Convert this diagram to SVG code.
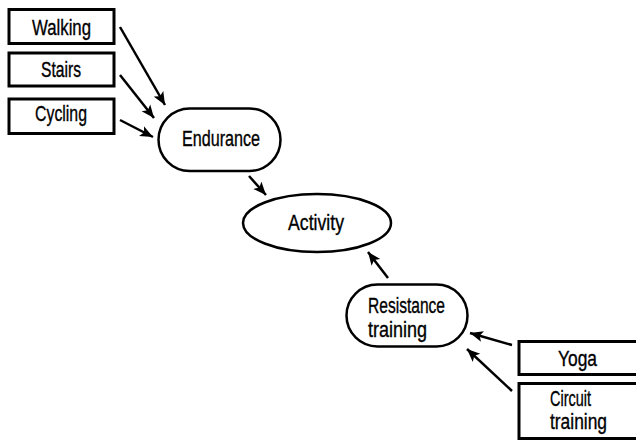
<svg xmlns="http://www.w3.org/2000/svg" width="636" height="441" viewBox="0 0 636 441">
<style>
.box{fill:#fff;stroke:#000;stroke-width:3}
.oval{fill:#fff;stroke:#000;stroke-width:2.5}
.lbl{font-family:"Liberation Sans",Arial,sans-serif;font-size:22px;fill:#000;stroke:#000;stroke-width:0.35}
.edge{stroke:#000;stroke-width:2.5;fill:none;marker-end:url(#arr)}
</style>
<defs>
<marker id="arr" markerUnits="userSpaceOnUse" markerWidth="14" markerHeight="12" viewBox="0 0 14 12" refX="13" refY="6" orient="auto">
<path d="M0,0.5 L13,6 L0,11.5 L3,6 z" fill="#000"/>
</marker>
</defs>
<rect width="636" height="441" fill="#fff"/>
<g id="connectors">
<line class="edge" x1="120" y1="27" x2="165" y2="105"/>
<line class="edge" x1="120" y1="75" x2="154" y2="118"/>
<line class="edge" x1="120" y1="120" x2="153" y2="137"/>
<line class="edge" x1="249" y1="176" x2="266" y2="195"/>
<line class="edge" x1="388" y1="278" x2="368" y2="252"/>
<line class="edge" x1="512" y1="345" x2="470" y2="333"/>
<line class="edge" x1="512" y1="391" x2="467" y2="349"/>
</g>
<g id="walking">
<rect class="box" x="9" y="9.5" width="105" height="34"/>
<text class="lbl" x="32" y="35" textLength="59" lengthAdjust="spacingAndGlyphs">Walking</text>
</g>
<g id="stairs">
<rect class="box" x="9" y="53" width="105" height="33"/>
<text class="lbl" x="41" y="77" textLength="40" lengthAdjust="spacingAndGlyphs">Stairs</text>
</g>
<g id="cycling">
<rect class="box" x="9" y="99" width="105" height="34.5"/>
<text class="lbl" x="35" y="121" textLength="52" lengthAdjust="spacingAndGlyphs">Cycling</text>
</g>
<g id="endurance">
<rect class="oval" x="158.5" y="108.5" width="122" height="62.5" rx="31.25"/>
<text class="lbl" x="182" y="146" textLength="78" lengthAdjust="spacingAndGlyphs">Endurance</text>
</g>
<g id="activity">
<ellipse class="oval" cx="317" cy="223" rx="74" ry="29"/>
<text class="lbl" x="288" y="230" textLength="56" lengthAdjust="spacingAndGlyphs">Activity</text>
</g>
<g id="resistance">
<rect class="oval" x="346.5" y="284.5" width="121" height="62" rx="31"/>
<text class="lbl" x="368" y="313" textLength="77" lengthAdjust="spacingAndGlyphs">Resistance</text>
<text class="lbl" x="368" y="337" textLength="59" lengthAdjust="spacingAndGlyphs">training</text>
</g>
<g id="yoga">
<rect class="box" x="519" y="341.5" width="122" height="33"/>
<text class="lbl" x="558" y="366" textLength="39" lengthAdjust="spacingAndGlyphs">Yoga</text>
</g>
<g id="circuit">
<rect class="box" x="519" y="383.5" width="122" height="55"/>
<text class="lbl" x="550" y="406" textLength="41" lengthAdjust="spacingAndGlyphs">Circuit</text>
<text class="lbl" x="550" y="429" textLength="57" lengthAdjust="spacingAndGlyphs">training</text>
</g>
</svg>
